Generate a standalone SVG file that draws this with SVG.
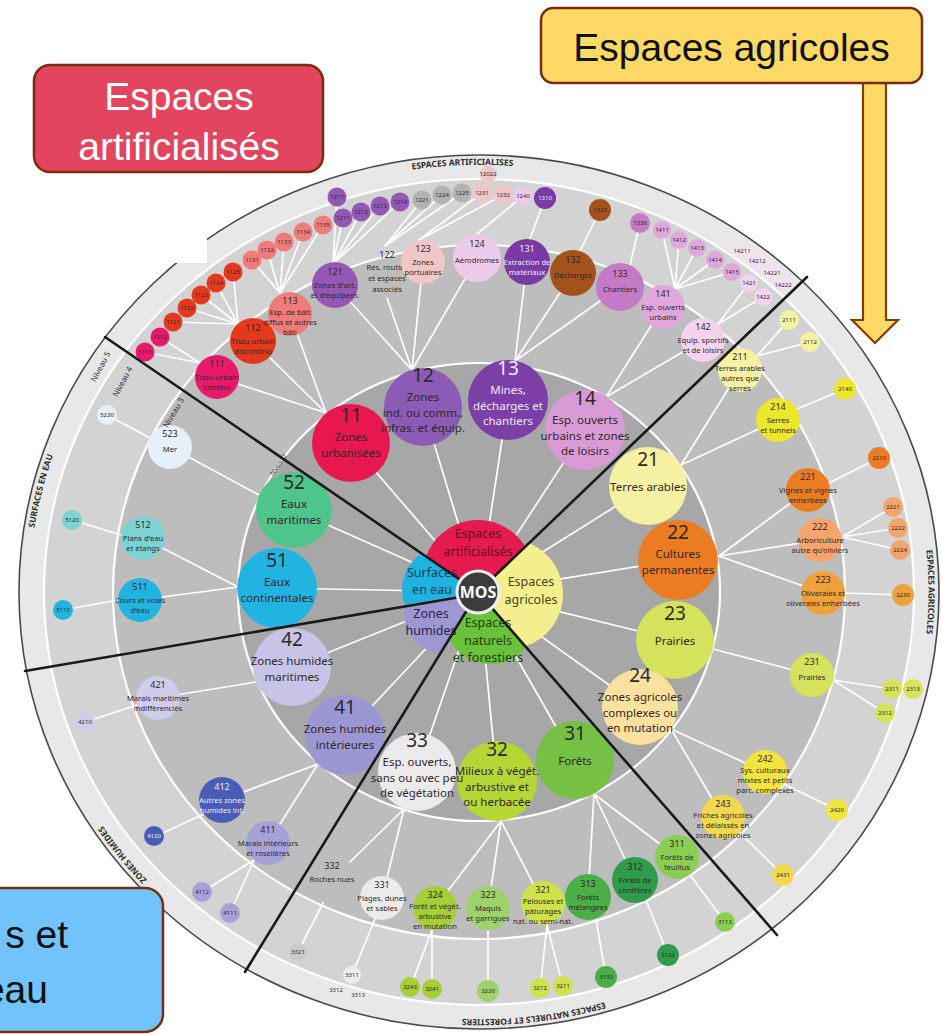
<svg xmlns="http://www.w3.org/2000/svg" width="942" height="1034" viewBox="0 0 942 1034">
<defs>
<style>
.f{font-family:"Noto Sans","DejaVu Sans","Liberation Sans",sans-serif;font-stretch:condensed;text-anchor:middle}
.n3{font-size:19px}
.t3{font-size:11.5px}
.n4{font-size:9px}
.t4{font-size:7.6px}
.t5{font-size:6px}
.tk{fill:#2f2828}
.tl{fill:#f2eaf7}
.ln{stroke:#fff;stroke-width:1.7;fill:none;stroke-linecap:round}
.bk{stroke:#1a1a1a;stroke-width:2.6;fill:none;stroke-linecap:round}
.sep{stroke:#fff;stroke-width:2.2}
.ring{font-size:8.5px;font-weight:bold;fill:#2e2e2e}
.lvl{font-size:8px;fill:#2e2e2e}
.w1{font-size:12.5px}
.box{stroke:#7b2c10;stroke-width:2.5}
.bt{font-family:"Liberation Sans",Arial,sans-serif;font-size:39px}
</style>
<path id="ringpath" d="M29.5,592 A449.5,427 0 1 1 928.5,592 A449.5,427 0 1 1 29.5,592"/>
<clipPath id="cpR"><polygon points="479,592 313,479 479,392 623,454"/></clipPath>
<clipPath id="cpY"><polygon points="479,592 623,454 679,592 610,743"/></clipPath>
<clipPath id="cpG"><polygon points="479,592 610,743 479,792 375,763"/></clipPath>
<clipPath id="cpL"><polygon points="479,592 375,763 315,707 282,626"/></clipPath>
<clipPath id="cpC"><polygon points="479,592 282,626 279,592 313,479"/></clipPath>
</defs>

<g id="background">
<ellipse cx="479" cy="592" rx="460" ry="437" fill="#e8e8e8" stroke="#4a4a4a" stroke-width="1.6"/>
<ellipse cx="479" cy="592" rx="435" ry="413" fill="#d3d3d3" class="sep"/>
<ellipse cx="479" cy="592" rx="366" ry="347" fill="#bdbdbd" class="sep"/>
<ellipse cx="479" cy="592" rx="241" ry="229" fill="#a7a7a7" class="sep"/>
</g>

<g id="connectors">
<path class="ln" d="M479,592L351,443M479,592L423,407M479,592L508,400M479,592L585,430M479,592L648,486M479,592L678,560M479,592L675,640M479,592L640,707M479,592L575,760M479,592L497,781M479,592L417,772M479,592L345,735M479,592L292,667M479,592L277,588M479,592L294,510"/>
<path class="ln" d="M326,413L217,377M326,413L253,341M326,413L290,314M412,370L335,285M412,370L387,298M412,370L423,262M412,370L477,258M515,361L527,262M515,361L573,273M515,361L620,287M606,397L663,307M606,397L703,340M681,465L740,370M681,465L778,420M719,556L808,490M719,556L820,540M719,556L823,593M713,649L812,675M671,729L765,772M671,729L723,817M594,794L677,857M594,794L635,880M594,794L588,897M501,821L543,903M501,821L488,908M501,821L435,908M404,809L382,898M404,809L350,862M318,764L268,843M318,764L222,800M256,682L158,698M238,587L140,600M238,587L143,538M259,495L170,447"/>
<path class="ln" d="M200,363L145,352M200,363L160,337M238,324L173,322M238,324L187,308M238,324L201,295M238,324L216,283M238,324L233,272M280,293L252,260M280,293L267,250M280,293L284,242M280,293L303,232M280,293L323,225M333,264L337,197M333,264L343,218M333,264L361,212M333,264L380,206M333,264L400,202M385,246L422,200M385,246L442,195M385,246L462,193M419,240L482,193M419,240L503,195M477,234L523,196M530,239L545,198M580,251L600,210M630,265L640,223M675,289L662,230M675,289L679,240M675,289L697,248M675,289L715,260M675,289L732,272M718,324L749,283M718,324L763,297M757,356L789,320M757,356L810,342M797,409L845,389M829,483L879,458M842,537L893,507M842,537L898,528M842,537L900,550M845,593L903,595M833,680L892,689M833,680L885,713M784,784L837,810M739,832L783,875M690,875L725,922M646,900L668,955M596,919L606,977M547,925L563,987M547,925L540,990M488,930L488,993M432,930L432,990M432,930L410,988M375,919L352,975M323,903L298,952M254,860L202,892M254,860L230,913M204,814L152,838M137,705L85,722M118,600L63,610M121,535L72,520M150,438L107,415"/>
</g>

<g id="level5" class="f t5">
<g id="n1111"><circle cx="145" cy="352" r="9.5" fill="#e8196b"/><text class="tk" x="145" y="354">1111</text></g>
<g id="n1112"><circle cx="160" cy="337" r="9.5" fill="#e8196b"/><text class="tk" x="160" y="339">1112</text></g>
<g id="n1121"><circle cx="173" cy="322" r="9.5" fill="#e5391f"/><text class="tk" x="173" y="324">1121</text></g>
<g id="n1122"><circle cx="187" cy="308" r="9.5" fill="#e5391f"/><text class="tk" x="187" y="310">1122</text></g>
<g id="n1123"><circle cx="201" cy="295" r="9.5" fill="#e5391f"/><text class="tk" x="201" y="297">1123</text></g>
<g id="n1124"><circle cx="216" cy="283" r="9.5" fill="#e5391f"/><text class="tk" x="216" y="285">1124</text></g>
<g id="n1125"><circle cx="233" cy="272" r="9.5" fill="#e5391f"/><text class="tk" x="233" y="274">1125</text></g>
<g id="n1131"><circle cx="252" cy="260" r="9.5" fill="#ef7b7b"/><text class="tk" x="252" y="262">1131</text></g>
<g id="n1132"><circle cx="267" cy="250" r="9.5" fill="#ef7b7b"/><text class="tk" x="267" y="252">1132</text></g>
<g id="n1133"><circle cx="284" cy="242" r="9.5" fill="#ef7b7b"/><text class="tk" x="284" y="244">1133</text></g>
<g id="n1134"><circle cx="303" cy="232" r="9.5" fill="#ef7b7b"/><text class="tk" x="303" y="234">1134</text></g>
<g id="n1135"><circle cx="323" cy="225" r="9.5" fill="#ef7b7b"/><text class="tk" x="323" y="227">1135</text></g>
<g id="n1217"><circle cx="337" cy="197" r="9.5" fill="#9457b4"/><text class="tk" x="337" y="199">1217</text></g>
<g id="n1211"><circle cx="343" cy="218" r="9.5" fill="#9457b4"/><text class="tk" x="343" y="220">1211</text></g>
<g id="n1212"><circle cx="361" cy="212" r="9.5" fill="#9457b4"/><text class="tk" x="361" y="214">1212</text></g>
<g id="n1213"><circle cx="380" cy="206" r="9.5" fill="#9457b4"/><text class="tk" x="380" y="208">1213</text></g>
<g id="n1214"><circle cx="400" cy="202" r="9.5" fill="#9457b4"/><text class="tk" x="400" y="204">1214</text></g>
<g id="n1221"><circle cx="422" cy="200" r="9.5" fill="#b2b2b2"/><text class="tk" x="422" y="202">1221</text></g>
<g id="n1224"><circle cx="442" cy="195" r="9.5" fill="#b2b2b2"/><text class="tk" x="442" y="197">1224</text></g>
<g id="n1225"><circle cx="462" cy="193" r="9.5" fill="#b2b2b2"/><text class="tk" x="462" y="195">1225</text></g>
<g id="n1231"><circle cx="482" cy="193" r="9.5" fill="#f2c6c6"/><text class="tk" x="482" y="195">1231</text></g>
<g id="n1232"><circle cx="503" cy="195" r="9.5" fill="#f2c6c6"/><text class="tk" x="503" y="197">1232</text></g>
<g id="n12022"><circle cx="488" cy="174" r="8.5" fill="#f2c6c6"/><text class="tk" x="488" y="176">12022</text></g>
<g id="n1240"><circle cx="523" cy="196" r="9.5" fill="#eccbea"/><text class="tk" x="523" y="198">1240</text></g>
<g id="n1310"><circle cx="545" cy="198" r="11" fill="#7a3aa4"/><text class="tl" x="545" y="200">1310</text></g>
<g id="n1320"><circle cx="600" cy="210" r="11" fill="#a4521c"/><text class="tk" x="600" y="212">1320</text></g>
<g id="n1330"><circle cx="640" cy="223" r="10" fill="#c57ac7"/><text class="tk" x="640" y="225">1330</text></g>
<g id="n1411"><circle cx="662" cy="230" r="9" fill="#e0a7dc"/><text class="tk" x="662" y="232">1411</text></g>
<g id="n1412"><circle cx="679" cy="240" r="9" fill="#e0a7dc"/><text class="tk" x="679" y="242">1412</text></g>
<g id="n1413"><circle cx="697" cy="248" r="9" fill="#e0a7dc"/><text class="tk" x="697" y="250">1413</text></g>
<g id="n1414"><circle cx="715" cy="260" r="9" fill="#e0a7dc"/><text class="tk" x="715" y="262">1414</text></g>
<g id="n1415"><circle cx="732" cy="272" r="9" fill="#e0a7dc"/><text class="tk" x="732" y="274">1415</text></g>
<g id="n1421"><circle cx="749" cy="283" r="9" fill="#f4d3ef"/><text class="tk" x="749" y="285">1421</text></g>
<g id="n1422"><circle cx="763" cy="297" r="9" fill="#f4d3ef"/><text class="tk" x="763" y="299">1422</text></g>
<g id="n14211"><circle cx="742" cy="251" r="8" fill="#f6dff3"/><text class="tk" x="742" y="253">14211</text></g>
<g id="n14212"><circle cx="757" cy="261" r="8" fill="#f6dff3"/><text class="tk" x="757" y="263">14212</text></g>
<g id="n14221"><circle cx="772" cy="273" r="8" fill="#f6dff3"/><text class="tk" x="772" y="275">14221</text></g>
<g id="n14222"><circle cx="783" cy="285" r="8" fill="#f6dff3"/><text class="tk" x="783" y="287">14222</text></g>
<g id="n2111"><circle cx="789" cy="320" r="10" fill="#f5f0a2"/><text class="tk" x="789" y="322">2111</text></g>
<g id="n2112"><circle cx="810" cy="342" r="10" fill="#f5f0a2"/><text class="tk" x="810" y="344">2112</text></g>
<g id="n2140"><circle cx="845" cy="389" r="11" fill="#ece62c"/><text class="tk" x="845" y="391">2140</text></g>
<g id="n2210"><circle cx="879" cy="458" r="11" fill="#ec7c22"/><text class="tk" x="879" y="460">2210</text></g>
<g id="n2221"><circle cx="893" cy="507" r="10" fill="#f5a46b"/><text class="tk" x="893" y="509">2221</text></g>
<g id="n2222"><circle cx="898" cy="528" r="10" fill="#f5a46b"/><text class="tk" x="898" y="530">2222</text></g>
<g id="n2224"><circle cx="900" cy="550" r="10" fill="#f5a46b"/><text class="tk" x="900" y="552">2224</text></g>
<g id="n2230"><circle cx="903" cy="595" r="11" fill="#efa13a"/><text class="tk" x="903" y="597">2230</text></g>
<g id="n2311"><circle cx="892" cy="689" r="10" fill="#d5e25b"/><text class="tk" x="892" y="691">2311</text></g>
<g id="n2313"><circle cx="913" cy="689" r="10" fill="#d5e25b"/><text class="tk" x="913" y="691">2313</text></g>
<g id="n2312"><circle cx="885" cy="713" r="10" fill="#d5e25b"/><text class="tk" x="885" y="715">2312</text></g>
<g id="n2420"><circle cx="837" cy="810" r="11" fill="#f2e43f"/><text class="tk" x="837" y="812">2420</text></g>
<g id="n2431"><circle cx="783" cy="875" r="11" fill="#f1d84e"/><text class="tk" x="783" y="877">2431</text></g>
<g id="n3113"><circle cx="725" cy="922" r="10" fill="#8ccd53"/><text class="tk" x="725" y="924">3113</text></g>
<g id="n3120"><circle cx="668" cy="955" r="11" fill="#2e9c4a"/><text class="tk" x="668" y="957">3120</text></g>
<g id="n3130"><circle cx="606" cy="977" r="11" fill="#4baf48"/><text class="tk" x="606" y="979">3130</text></g>
<g id="n3211"><circle cx="563" cy="986" r="10" fill="#cfe24c"/><text class="tk" x="563" y="988">3211</text></g>
<g id="n3212"><circle cx="540" cy="988" r="10" fill="#cfe24c"/><text class="tk" x="540" y="990">3212</text></g>
<g id="n3230"><circle cx="488" cy="991" r="11" fill="#a0d26b"/><text class="tk" x="488" y="993">3230</text></g>
<g id="n3241"><circle cx="432" cy="989" r="10" fill="#a5ce37"/><text class="tk" x="432" y="991">3241</text></g>
<g id="n3243"><circle cx="410" cy="987" r="10" fill="#a5ce37"/><text class="tk" x="410" y="989">3243</text></g>
<g id="n3311"><circle cx="352" cy="975" r="9" fill="#ececec"/><text class="tk" x="352" y="977">3311</text></g>
<g id="n3312"><text class="tk" x="336" y="992">3312</text></g>
<g id="n3313"><text class="tk" x="358" y="997">3313</text></g>
<g id="n3321"><circle cx="298" cy="952" r="9" fill="#c9c9c9"/><text class="tk" x="298" y="954">3321</text></g>
<g id="n4210"><circle cx="85" cy="722" r="10" fill="#d0cceb"/><text class="tk" x="85" y="724">4210</text></g>
<g id="n4120"><circle cx="154" cy="836" r="10" fill="#4a5db6"/><text class="tl" x="154" y="838">4120</text></g>
<g id="n4112"><circle cx="202" cy="892" r="10" fill="#a6a2d8"/><text class="tk" x="202" y="894">4112</text></g>
<g id="n4111"><circle cx="230" cy="913" r="10" fill="#a6a2d8"/><text class="tk" x="230" y="915">4111</text></g>
<g id="n5110"><circle cx="63" cy="610" r="10" fill="#21b4e2"/><text class="tk" x="63" y="612">5110</text></g>
<g id="n5120"><circle cx="72" cy="520" r="10" fill="#7dd2d3"/><text class="tk" x="72" y="522">5120</text></g>
<g id="n5230"><circle cx="107" cy="415" r="10" fill="#e6f0fa"/><text class="tk" x="107" y="417">5230</text></g>
</g>

<g id="level4" class="f">
<g id="n111"><circle cx="217" cy="377" r="22" fill="#e8196b"/><text class="tk"><tspan class="n4" x="217" y="367">111</tspan><tspan class="t4" x="217" y="380">Tissu urbain</tspan><tspan class="t4" x="217" y="390">continu</tspan></text></g>
<g id="n112"><circle cx="253" cy="341" r="23" fill="#e5391f"/><text class="tk"><tspan class="n4" x="253" y="331">112</tspan><tspan class="t4" x="253" y="344">Tissu urbain</tspan><tspan class="t4" x="253" y="354">discontinu</tspan></text></g>
<g id="n113"><circle cx="290" cy="314" r="22" fill="#ef7b7b"/><text class="tk"><tspan class="n4" x="290" y="304">113</tspan><tspan class="t4" x="290" y="315">Esp. de bâti</tspan><tspan class="t4" x="290" y="325">diffus et autres</tspan><tspan class="t4" x="290" y="335">bâti</tspan></text></g>
<g id="n121"><circle cx="335" cy="285" r="23" fill="#9457b4"/><text class="tk"><tspan class="n4" x="335" y="275">121</tspan><tspan class="t4" x="335" y="288">Zones d'act.</tspan><tspan class="t4" x="335" y="298">et d'équipem.</tspan></text></g>
<g id="n122"><text class="tk"><tspan class="n4" x="387" y="258">122</tspan><tspan class="t4" x="387" y="270">Rés. routier</tspan><tspan class="t4" x="387" y="281">et espaces</tspan><tspan class="t4" x="387" y="292">associés</tspan></text></g>
<g id="n123"><circle cx="423" cy="262" r="22" fill="#f2c6c6"/><text class="tk"><tspan class="n4" x="423" y="252">123</tspan><tspan class="t4" x="423" y="265">Zones</tspan><tspan class="t4" x="423" y="275">portuaires</tspan></text></g>
<g id="n124"><circle cx="477" cy="258" r="24" fill="#eccbea"/><text class="tk"><tspan class="n4" x="477" y="247">124</tspan><tspan class="t4" x="477" y="263">Aérodromes</tspan></text></g>
<g id="n131"><circle cx="527" cy="262" r="23" fill="#7a3aa4"/><text class="tl"><tspan class="n4" x="527" y="252">131</tspan><tspan class="t4" x="527" y="265">Extraction de</tspan><tspan class="t4" x="527" y="275">matériaux</tspan></text></g>
<g id="n132"><circle cx="573" cy="273" r="23" fill="#a4521c"/><text class="tk"><tspan class="n4" x="573" y="263">132</tspan><tspan class="t4" x="573" y="278">Décharges</tspan></text></g>
<g id="n133"><circle cx="620" cy="287" r="24" fill="#c57ac7"/><text class="tk"><tspan class="n4" x="620" y="277">133</tspan><tspan class="t4" x="620" y="292">Chantiers</tspan></text></g>
<g id="n141"><circle cx="663" cy="307" r="22" fill="#e0a7dc"/><text class="tk"><tspan class="n4" x="663" y="297">141</tspan><tspan class="t4" x="663" y="310">Esp. ouverts</tspan><tspan class="t4" x="663" y="320">urbains</tspan></text></g>
<g id="n142"><circle cx="703" cy="340" r="22" fill="#f4d3ef"/><text class="tk"><tspan class="n4" x="703" y="330">142</tspan><tspan class="t4" x="703" y="343">Equip. sportifs</tspan><tspan class="t4" x="703" y="353">et de loisirs</tspan></text></g>
<g id="n211"><circle cx="740" cy="370" r="22" fill="#f5f0a2"/><text class="tk"><tspan class="n4" x="740" y="360">211</tspan><tspan class="t4" x="740" y="371">Terres arables</tspan><tspan class="t4" x="740" y="381">autres que</tspan><tspan class="t4" x="740" y="391">serres</tspan></text></g>
<g id="n214"><circle cx="778" cy="420" r="22" fill="#ece62c"/><text class="tk"><tspan class="n4" x="778" y="410">214</tspan><tspan class="t4" x="778" y="423">Serres</tspan><tspan class="t4" x="778" y="433">et tunnels</tspan></text></g>
<g id="n221"><circle cx="808" cy="490" r="22" fill="#ec7c22"/><text class="tk"><tspan class="n4" x="808" y="480">221</tspan><tspan class="t4" x="808" y="493">Vignes et vignes</tspan><tspan class="t4" x="808" y="503">enherbées</tspan></text></g>
<g id="n222"><circle cx="820" cy="540" r="22" fill="#f5a46b"/><text class="tk"><tspan class="n4" x="820" y="530">222</tspan><tspan class="t4" x="820" y="543">Arboriculture</tspan><tspan class="t4" x="820" y="553">autre qu'oliviers</tspan></text></g>
<g id="n223"><circle cx="823" cy="593" r="22" fill="#efa13a"/><text class="tk"><tspan class="n4" x="823" y="583">223</tspan><tspan class="t4" x="823" y="596">Oliveraies et</tspan><tspan class="t4" x="823" y="606">oliveraies enherbées</tspan></text></g>
<g id="n231"><circle cx="812" cy="675" r="22" fill="#d5e25b"/><text class="tk"><tspan class="n4" x="812" y="665">231</tspan><tspan class="t4" x="812" y="680">Prairies</tspan></text></g>
<g id="n242"><circle cx="765" cy="772" r="22" fill="#f2e43f"/><text class="tk"><tspan class="n4" x="765" y="762">242</tspan><tspan class="t4" x="765" y="773">Sys. culturaux</tspan><tspan class="t4" x="765" y="783">mixtes et petits</tspan><tspan class="t4" x="765" y="793">parc. complexes</tspan></text></g>
<g id="n243"><circle cx="723" cy="817" r="22" fill="#f1d84e"/><text class="tk"><tspan class="n4" x="723" y="807">243</tspan><tspan class="t4" x="723" y="818">Friches agricoles</tspan><tspan class="t4" x="723" y="828">et délaissés en</tspan><tspan class="t4" x="723" y="838">zones agricoles</tspan></text></g>
<g id="n311"><circle cx="677" cy="857" r="22" fill="#8ccd53"/><text class="tk"><tspan class="n4" x="677" y="847">311</tspan><tspan class="t4" x="677" y="860">Forêts de</tspan><tspan class="t4" x="677" y="870">feuillus</tspan></text></g>
<g id="n312"><circle cx="635" cy="880" r="23" fill="#2e9c4a"/><text class="tk"><tspan class="n4" x="635" y="870">312</tspan><tspan class="t4" x="635" y="883">Forêts de</tspan><tspan class="t4" x="635" y="893">conifères</tspan></text></g>
<g id="n313"><circle cx="588" cy="897" r="23" fill="#4baf48"/><text class="tk"><tspan class="n4" x="588" y="887">313</tspan><tspan class="t4" x="588" y="900">Forêts</tspan><tspan class="t4" x="588" y="910">mélangées</tspan></text></g>
<g id="n321"><circle cx="543" cy="903" r="22" fill="#cfe24c"/><text class="tk"><tspan class="n4" x="543" y="893">321</tspan><tspan class="t4" x="543" y="904">Pelouses et</tspan><tspan class="t4" x="543" y="914">pâturages</tspan><tspan class="t4" x="543" y="924">nat. ou semi-nat.</tspan></text></g>
<g id="n323"><circle cx="488" cy="908" r="22" fill="#a0d26b"/><text class="tk"><tspan class="n4" x="488" y="898">323</tspan><tspan class="t4" x="488" y="911">Maquis</tspan><tspan class="t4" x="488" y="921">et garrigues</tspan></text></g>
<g id="n324"><circle cx="435" cy="908" r="22" fill="#a5ce37"/><text class="tk"><tspan class="n4" x="435" y="898">324</tspan><tspan class="t4" x="435" y="909">Forêt et végét.</tspan><tspan class="t4" x="435" y="919">arbustive</tspan><tspan class="t4" x="435" y="929">en mutation</tspan></text></g>
<g id="n331"><circle cx="382" cy="898" r="22" fill="#ebebeb"/><text class="tk"><tspan class="n4" x="382" y="888">331</tspan><tspan class="t4" x="382" y="901">Plages, dunes</tspan><tspan class="t4" x="382" y="911">et sables</tspan></text></g>
<g id="n332"><text class="tk"><tspan class="n4" x="332" y="869">332</tspan><tspan class="t4" x="332" y="882">Roches nues</tspan></text></g>
<g id="n411"><circle cx="268" cy="843" r="22" fill="#a6a2d8"/><text class="tk"><tspan class="n4" x="268" y="833">411</tspan><tspan class="t4" x="268" y="846">Marais intérieurs</tspan><tspan class="t4" x="268" y="856">et roselières</tspan></text></g>
<g id="n412"><circle cx="222" cy="800" r="23" fill="#4a5db6"/><text class="tl"><tspan class="n4" x="222" y="790">412</tspan><tspan class="t4" x="222" y="803">Autres zones</tspan><tspan class="t4" x="222" y="813">humides int.</tspan></text></g>
<g id="n421"><circle cx="158" cy="698" r="22" fill="#d0cceb"/><text class="tk"><tspan class="n4" x="158" y="688">421</tspan><tspan class="t4" x="158" y="701">Marais maritimes</tspan><tspan class="t4" x="158" y="711">indifférenciés</tspan></text></g>
<g id="n511"><circle cx="140" cy="600" r="22" fill="#21b4e2"/><text class="tk"><tspan class="n4" x="140" y="590">511</tspan><tspan class="t4" x="140" y="603">Cours et voies</tspan><tspan class="t4" x="140" y="613">d'eau</tspan></text></g>
<g id="n512"><circle cx="143" cy="538" r="22" fill="#7dd2d3"/><text class="tk"><tspan class="n4" x="143" y="528">512</tspan><tspan class="t4" x="143" y="541">Plans d'eau</tspan><tspan class="t4" x="143" y="551">et étangs</tspan></text></g>
<g id="n523"><circle cx="170" cy="447" r="22" fill="#e6f0fa"/><text class="tk"><tspan class="n4" x="170" y="437">523</tspan><tspan class="t4" x="170" y="452">Mer</tspan></text></g>
</g>

<g id="level3" class="f">
<g id="n11"><circle cx="351" cy="443" r="39" fill="#e8174f"/><text class="tk"><tspan class="n3" x="351" y="422">11</tspan><tspan class="t3" x="351" y="441">Zones</tspan><tspan class="t3" x="351" y="457">urbanisées</tspan></text></g>
<g id="n12"><circle cx="423" cy="407" r="39" fill="#8c5bb6"/><text class="tk"><tspan class="n3" x="423" y="382">12</tspan><tspan class="t3" x="423" y="401">Zones</tspan><tspan class="t3" x="423" y="416.5">ind. ou comm.,</tspan><tspan class="t3" x="423" y="432">infras. et équip.</tspan></text></g>
<g id="n13"><circle cx="508" cy="400" r="40" fill="#7b3fa7"/><text class="tl"><tspan class="n3" x="508" y="375">13</tspan><tspan class="t3" x="508" y="394">Mines,</tspan><tspan class="t3" x="508" y="409.5">décharges et</tspan><tspan class="t3" x="508" y="425">chantiers</tspan></text></g>
<g id="n14"><circle cx="585" cy="430" r="40" fill="#d99bd6"/><text class="tk"><tspan class="n3" x="585" y="405">14</tspan><tspan class="t3" x="585" y="424">Esp. ouverts</tspan><tspan class="t3" x="585" y="439.5">urbains et zones</tspan><tspan class="t3" x="585" y="455">de loisirs</tspan></text></g>
<g id="n21"><circle cx="648" cy="486" r="39" fill="#f5f0a2"/><text class="tk"><tspan class="n3" x="648" y="466">21</tspan><tspan class="t3" x="648" y="491">Terres arables</tspan></text></g>
<g id="n22"><circle cx="678" cy="560" r="40" fill="#ec7c22"/><text class="tk"><tspan class="n3" x="678" y="539">22</tspan><tspan class="t3" x="678" y="558">Cultures</tspan><tspan class="t3" x="678" y="574">permanentes</tspan></text></g>
<g id="n23"><circle cx="675" cy="640" r="39" fill="#d5e25b"/><text class="tk"><tspan class="n3" x="675" y="620">23</tspan><tspan class="t3" x="675" y="645">Prairies</tspan></text></g>
<g id="n24"><circle cx="640" cy="707" r="38" fill="#fbe1a0"/><text class="tk"><tspan class="n3" x="640" y="682">24</tspan><tspan class="t3" x="640" y="701">Zones agricoles</tspan><tspan class="t3" x="640" y="716.5">complexes ou</tspan><tspan class="t3" x="640" y="732">en mutation</tspan></text></g>
<g id="n31"><circle cx="575" cy="760" r="39" fill="#76c043"/><text class="tk"><tspan class="n3" x="575" y="740">31</tspan><tspan class="t3" x="575" y="765">Forêts</tspan></text></g>
<g id="n32"><circle cx="497" cy="781" r="40" fill="#b4d736"/><text class="tk"><tspan class="n3" x="497" y="756">32</tspan><tspan class="t3" x="497" y="775">Milieux à végét.</tspan><tspan class="t3" x="497" y="790.5">arbustive et</tspan><tspan class="t3" x="497" y="806">ou herbacée</tspan></text></g>
<g id="n33"><circle cx="417" cy="772" r="39" fill="#ebebeb"/><text class="tk"><tspan class="n3" x="417" y="747">33</tspan><tspan class="t3" x="417" y="766">Esp. ouverts,</tspan><tspan class="t3" x="417" y="781.5">sans ou avec peu</tspan><tspan class="t3" x="417" y="797">de végétation</tspan></text></g>
<g id="n41"><circle cx="345" cy="735" r="40" fill="#9b97d3"/><text class="tk"><tspan class="n3" x="345" y="714">41</tspan><tspan class="t3" x="345" y="733">Zones humides</tspan><tspan class="t3" x="345" y="749">intérieures</tspan></text></g>
<g id="n42"><circle cx="292" cy="667" r="39" fill="#c8c4e7"/><text class="tk"><tspan class="n3" x="292" y="646">42</tspan><tspan class="t3" x="292" y="665">Zones humides</tspan><tspan class="t3" x="292" y="681">maritimes</tspan></text></g>
<g id="n51"><circle cx="277" cy="588" r="40" fill="#21b4e2"/><text class="tk"><tspan class="n3" x="277" y="567">51</tspan><tspan class="t3" x="277" y="586">Eaux</tspan><tspan class="t3" x="277" y="602">continentales</tspan></text></g>
<g id="n52"><circle cx="294" cy="510" r="38" fill="#4fc58b"/><text class="tk"><tspan class="n3" x="294" y="489">52</tspan><tspan class="t3" x="294" y="508">Eaux</tspan><tspan class="t3" x="294" y="524">maritimes</tspan></text></g>
</g>

<g id="level1" class="f">
<g id="n-art"><circle cx="478" cy="575" r="55" fill="#e61a4e" clip-path="url(#cpR)"/><text class="w1" fill="#5c0d20"><tspan x="478" y="538">Espaces</tspan><tspan x="478" y="556">artificialisés</tspan></text></g>
<g id="n-agr"><circle cx="508" cy="594" r="55" fill="#f3ef8f" clip-path="url(#cpY)"/><text class="w1" fill="#4a4618"><tspan x="531" y="586">Espaces</tspan><tspan x="531" y="604">agricoles</tspan></text></g>
<g id="n-nat"><circle cx="490" cy="618" r="46" fill="#6cc13b" clip-path="url(#cpG)"/><text class="w1" fill="#1d4210"><tspan x="488" y="627">Espaces</tspan><tspan x="488" y="645">naturels</tspan><tspan x="488" y="662">et forestiers</tspan></text></g>
<g id="n-hum"><circle cx="445" cy="613" r="41" fill="#9f97d4" clip-path="url(#cpL)"/><text class="w1" fill="#27234f"><tspan x="431" y="618">Zones</tspan><tspan x="431" y="635">humides</tspan></text></g>
<g id="n-eau"><circle cx="446" cy="590" r="44" fill="#1fb3e1" clip-path="url(#cpC)"/><text class="w1" fill="#0b3d55"><tspan x="432" y="577">Surfaces</tspan><tspan x="432" y="594">en eau</tspan></text></g>
</g>

<g id="dividers">
<path class="bk" d="M105,337L478,592M807,277L478,592M777,935L478,592M245,972L478,592M25,671L478,594"/>
</g>

<g id="mos">
<circle cx="478" cy="592" r="21" fill="#3c3c3c" stroke="#eeeeee" stroke-width="3"/>
<text class="f" x="478" y="598" font-size="16" font-weight="bold" fill="#ffffff">MOS</text>
</g>

<g id="ringlabels" class="f ring">
<text><textPath href="#ringpath" startOffset="24.4%">ESPACES ARTIFICIALISES</textPath></text>
<text><textPath href="#ringpath" startOffset="50%">ESPACES AGRICOLES</textPath></text>
<text><textPath href="#ringpath" startOffset="73%">ESPACES NATURELS ET FORESTIERS</textPath></text>
<text><textPath href="#ringpath" startOffset="89.7%">ZONES HUMIDES</textPath></text>
<text><textPath href="#ringpath" startOffset="3.7%">SURFACES EN EAU</textPath></text>
</g>

<g id="levels" class="f lvl">
<text transform="translate(103,368) rotate(-62)">Niveau 5</text>
<text transform="translate(125,383) rotate(-62)">Niveau 4</text>
<text transform="translate(176,414) rotate(-60)">Niveau 3</text>
<text transform="translate(280,466) rotate(-55)" font-size="6">Niveau 2</text>
</g>

<rect x="0" y="0" width="207" height="263" fill="#ffffff"/>

<g id="label-agricoles">
<polygon points="863,80 886,80 886,320 898,320 875,343 852,320 863,320" fill="#ffd966" stroke="#843c0c" stroke-width="2.2" stroke-linejoin="miter"/>
<rect class="box" x="541" y="8" width="381" height="75" rx="12" fill="#ffd966"/>
<text class="bt" x="731.5" y="61" text-anchor="middle" fill="#111">Espaces agricoles</text>
</g>

<g id="label-artificialises">
<rect class="box" x="34" y="65" width="289" height="107" rx="16" fill="#e3455f"/>
<text class="bt" text-anchor="middle" fill="#ffffff"><tspan x="179" y="110">Espaces</tspan><tspan x="179" y="160">artificialisés</tspan></text>
</g>

<g id="label-eau">
<rect class="box" x="-20" y="888" width="183" height="144" rx="18" fill="#72c3fb"/>
<text class="bt" text-anchor="end" fill="#111"><tspan x="68" y="948">s et</tspan><tspan x="48" y="1003">eau</tspan></text>
</g>
</svg>
